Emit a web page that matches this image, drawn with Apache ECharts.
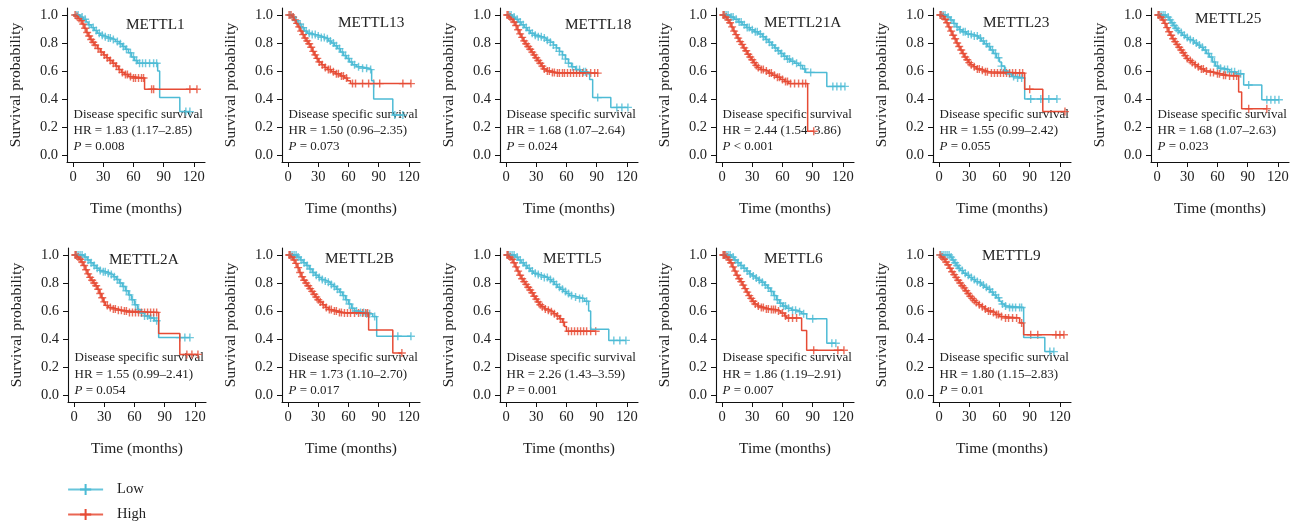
<!DOCTYPE html>
<html>
<head>
<meta charset="utf-8">
<script src="https://cdn.jsdelivr.net/npm/echarts@6/dist/echarts.min.js"></script>
<style>
  html, body { margin: 0; padding: 0; background: #fff; }
  #chart { width: 1298px; height: 522px; }
</style>
</head>
<body>
<div id="chart"></div>
<script>
// Kaplan–Meier disease specific survival, low vs high expression of METTL family genes.
// Each curve: [time (months), survival] at every drop; censor times listed separately.

const timeTicks = [0, 30, 60, 90, 120];
const survTicks = [0, 0.2, 0.4, 0.6, 0.8, 1.0];
const groups = ['Low', 'High'];

const panelNames = ['METTL1', 'METTL13', 'METTL18', 'METTL21A', 'METTL23', 'METTL25',
                    'METTL2A', 'METTL2B', 'METTL5', 'METTL6', 'METTL9'];
const hrTexts = ['1.83 (1.17–2.85)', '1.50 (0.96–2.35)', '1.68 (1.07–2.64)', '2.44 (1.54–3.86)',
                 '1.55 (0.99–2.42)', '1.68 (1.07–2.63)', '1.55 (0.99–2.41)', '1.73 (1.10–2.70)',
                 '2.26 (1.43–3.59)', '1.86 (1.19–2.91)', '1.80 (1.15–2.83)'];
const pTexts = ['= 0.008', '= 0.073', '= 0.024', '< 0.001', '= 0.055', '= 0.023',
                '= 0.054', '= 0.017', '= 0.001', '= 0.007', '= 0.01'];

// METTL1
const mettl1Low = [[0,1],[7,0.985],[10,0.97],[13,0.95],[15,0.93],[18,0.91],[21,0.89],[24,0.87],[27,0.855],[30,0.845],[34,0.835],[38,0.825],[42,0.81],[46,0.795],[49,0.775],[52,0.755],[55,0.73],[58,0.7],[61,0.675],[64,0.655],[84,0.6],[86,0.41],[106,0.31]];
const mettl1LowCens = [3,5,9,12,16,20,23,26,29,32,35,37,40,44,47,50,53,57,60,63,66,69,72,76,80,83,112,116];
const mettl1High = [[0,1],[3,0.99],[5,0.975],[7,0.96],[9,0.935],[11,0.905],[13,0.875],[15,0.85],[17,0.825],[19,0.805],[21,0.785],[24,0.76],[27,0.735],[30,0.715],[33,0.695],[36,0.675],[39,0.655],[42,0.635],[45,0.61],[48,0.59],[51,0.575],[55,0.56],[59,0.55],[71,0.47]];
const mettl1HighCens = [2,4,6,8,10,12,14,16,18,20,22,25,28,31,34,37,40,43,46,49,52,54,57,60,62,65,68,70,78,80,116,123];

// METTL13
const mettl13Low = [[0,1],[4,0.985],[7,0.96],[10,0.935],[13,0.91],[16,0.885],[19,0.87],[23,0.86],[28,0.85],[33,0.84],[37,0.83],[40,0.815],[43,0.8],[46,0.78],[49,0.76],[52,0.735],[55,0.71],[58,0.69],[61,0.665],[64,0.645],[68,0.63],[73,0.62],[80,0.61],[83,0.53],[85,0.4],[104,0.285]];
const mettl13LowCens = [2,5,8,12,15,18,21,24,27,30,33,36,39,42,45,48,51,54,57,60,63,66,70,74,78,82,106,114];
const mettl13High = [[0,1],[4,0.985],[6,0.965],[8,0.94],[10,0.915],[12,0.885],[14,0.86],[16,0.835],[18,0.815],[20,0.795],[22,0.77],[24,0.74],[26,0.715],[28,0.69],[30,0.665],[33,0.645],[36,0.625],[39,0.61],[43,0.595],[47,0.58],[52,0.565],[56,0.55],[59,0.53],[62,0.51]];
const mettl13HighCens = [1,3,5,7,9,11,13,15,17,19,21,23,25,27,29,31,34,37,40,42,45,48,50,53,55,58,64,67,74,80,85,91,114,122];

// METTL18
const mettl18Low = [[0,1],[6,0.985],[9,0.97],[12,0.95],[15,0.93],[18,0.91],[21,0.89],[24,0.87],[28,0.855],[32,0.845],[36,0.835],[40,0.82],[44,0.805],[47,0.785],[50,0.765],[53,0.74],[56,0.715],[59,0.685],[62,0.655],[65,0.63],[69,0.61],[74,0.595],[80,0.58],[83,0.54],[86,0.41],[104,0.34]];
const mettl18LowCens = [3,5,8,11,14,17,20,23,26,29,32,35,38,41,44,47,50,53,56,59,62,66,70,73,77,79,91,110,115,121];
const mettl18High = [[0,1],[3,0.985],[5,0.97],[7,0.95],[9,0.925],[11,0.895],[13,0.865],[15,0.84],[17,0.815],[19,0.795],[21,0.775],[23,0.755],[25,0.735],[27,0.715],[29,0.695],[31,0.675],[33,0.655],[35,0.635],[37,0.615],[40,0.6],[44,0.59],[50,0.585]];
const mettl18HighCens = [1,2,4,6,8,10,12,14,16,18,20,22,24,26,28,30,32,34,36,38,41,43,46,48,51,53,56,58,61,64,67,70,73,76,80,84,88,91];

// METTL21A
const mettl21aLow = [[0,1],[8,0.985],[12,0.97],[16,0.95],[20,0.93],[24,0.91],[28,0.895],[32,0.88],[36,0.865],[40,0.845],[43,0.825],[46,0.805],[49,0.785],[52,0.765],[55,0.745],[58,0.725],[61,0.705],[64,0.685],[68,0.67],[72,0.655],[76,0.64],[80,0.615],[83,0.59],[104,0.49]];
const mettl21aLowCens = [2,4,6,9,11,14,17,19,22,25,27,30,33,35,38,41,44,47,50,53,56,59,62,65,67,70,74,78,82,88,110,114,118,122];
const mettl21aHigh = [[0,1],[3,0.985],[5,0.965],[7,0.945],[9,0.915],[11,0.885],[13,0.86],[15,0.835],[17,0.81],[19,0.79],[21,0.765],[23,0.745],[25,0.72],[27,0.7],[29,0.68],[31,0.66],[33,0.64],[35,0.625],[38,0.61],[42,0.6],[46,0.585],[50,0.57],[54,0.555],[58,0.54],[62,0.525],[66,0.51],[85,0.17]];
const mettl21aHighCens = [1,2,4,6,8,10,12,14,16,18,20,22,24,26,28,30,32,34,36,39,41,44,47,49,52,55,57,60,63,65,68,72,76,80,83,91];

// METTL23
const mettl23Low = [[0,1],[8,0.985],[11,0.965],[14,0.94],[17,0.915],[20,0.895],[23,0.88],[27,0.865],[31,0.86],[35,0.85],[39,0.835],[42,0.815],[45,0.795],[48,0.775],[51,0.75],[54,0.725],[57,0.695],[60,0.665],[62,0.635],[65,0.6],[68,0.58],[72,0.56],[76,0.55],[85,0.4]];
const mettl23LowCens = [2,4,6,9,12,15,18,21,24,26,29,32,35,38,41,44,47,50,53,56,59,62,66,70,74,78,82,91,101,109,117];
const mettl23High = [[0,1],[3,0.99],[5,0.97],[7,0.945],[9,0.915],[11,0.885],[13,0.855],[15,0.83],[17,0.8],[19,0.775],[21,0.75],[23,0.725],[25,0.7],[27,0.68],[29,0.66],[31,0.645],[34,0.63],[37,0.615],[41,0.605],[45,0.595],[50,0.585],[85,0.47],[103,0.31]];
const mettl23HighCens = [1,2,4,6,8,10,12,14,16,18,20,22,24,26,28,30,32,35,38,40,43,46,48,52,55,58,61,64,67,70,73,76,80,83,90,125];

// METTL25
const mettl25Low = [[0,1],[9,0.985],[12,0.965],[14,0.945],[16,0.925],[18,0.905],[20,0.89],[22,0.875],[25,0.855],[28,0.84],[31,0.825],[34,0.815],[37,0.8],[40,0.785],[43,0.77],[46,0.75],[49,0.725],[52,0.7],[55,0.665],[58,0.635],[61,0.62],[66,0.61],[72,0.595],[78,0.58],[86,0.5],[104,0.395]];
const mettl25LowCens = [2,4,6,8,11,13,15,17,19,21,24,27,30,33,36,39,42,45,48,51,54,57,60,63,67,70,74,77,81,83,91,109,113,117,121];
const mettl25High = [[0,1],[3,0.985],[5,0.965],[7,0.94],[9,0.91],[11,0.88],[13,0.855],[15,0.83],[17,0.81],[19,0.79],[21,0.77],[23,0.75],[25,0.73],[27,0.71],[29,0.69],[31,0.675],[34,0.66],[37,0.645],[40,0.63],[43,0.615],[47,0.6],[52,0.59],[58,0.58],[64,0.57],[70,0.565],[81,0.45],[84,0.33]];
const mettl25HighCens = [1,2,4,6,8,10,12,14,16,18,20,22,24,26,28,30,33,35,38,41,44,46,49,53,56,60,62,66,68,72,76,79,91,109];

// METTL2A
const mettl2aLow = [[0,1],[10,0.985],[13,0.965],[16,0.945],[19,0.925],[22,0.905],[25,0.89],[28,0.88],[32,0.87],[36,0.86],[39,0.845],[42,0.825],[45,0.8],[48,0.775],[51,0.745],[54,0.715],[57,0.68],[60,0.645],[63,0.61],[66,0.585],[70,0.565],[75,0.55],[80,0.53],[84,0.41]];
const mettl2aLowCens = [2,4,6,8,11,14,17,20,23,26,29,31,34,37,40,43,46,49,52,55,58,61,64,67,70,73,76,79,82,105,110,115];
const mettl2aHigh = [[0,1],[3,0.985],[5,0.97],[7,0.95],[9,0.925],[11,0.895],[13,0.865],[15,0.84],[17,0.82],[19,0.8],[21,0.78],[23,0.755],[25,0.725],[27,0.695],[29,0.665],[31,0.64],[34,0.625],[38,0.615],[43,0.605],[48,0.6],[53,0.59],[84,0.44],[105,0.29]];
const mettl2aHighCens = [1,2,4,6,8,10,12,14,16,18,20,22,24,26,28,30,33,36,39,41,44,47,50,52,55,58,61,64,67,70,73,76,79,82,112,117,123];

// METTL2B
const mettl2bLow = [[0,1],[9,0.985],[12,0.965],[15,0.945],[18,0.925],[21,0.9],[24,0.875],[27,0.855],[30,0.84],[33,0.825],[36,0.815],[39,0.805],[42,0.79],[45,0.775],[48,0.755],[51,0.735],[54,0.71],[57,0.68],[60,0.65],[63,0.62],[66,0.6],[70,0.59],[76,0.58],[84,0.56],[88,0.42]];
const mettl2bLowCens = [2,4,6,8,10,13,16,19,22,25,28,31,34,37,40,43,46,49,52,55,58,61,64,68,72,75,78,81,86,109,122];
const mettl2bHigh = [[0,1],[3,0.985],[5,0.965],[7,0.94],[9,0.91],[11,0.875],[13,0.845],[15,0.82],[17,0.8],[19,0.78],[21,0.76],[23,0.74],[25,0.72],[27,0.7],[29,0.68],[31,0.665],[34,0.645],[37,0.625],[40,0.61],[44,0.6],[49,0.59],[55,0.585],[80,0.465],[104,0.3]];
const mettl2bHighCens = [1,2,4,6,8,10,12,14,16,18,20,22,24,26,28,30,32,35,38,41,43,46,48,51,53,56,59,62,66,70,74,77,79,113];

// METTL5
const mettl5Low = [[0,1],[9,0.985],[12,0.965],[15,0.945],[18,0.925],[21,0.905],[24,0.885],[27,0.87],[30,0.86],[34,0.85],[38,0.84],[42,0.825],[45,0.81],[48,0.79],[51,0.77],[54,0.755],[57,0.74],[60,0.725],[63,0.71],[67,0.7],[72,0.69],[78,0.67],[82,0.6],[84,0.47],[102,0.39]];
const mettl5LowCens = [2,4,6,8,11,14,17,20,23,26,29,32,35,38,41,44,47,50,53,56,59,62,65,69,73,76,80,107,113,119];
const mettl5High = [[0,1],[3,0.985],[5,0.97],[7,0.945],[9,0.915],[11,0.885],[13,0.855],[15,0.83],[17,0.81],[19,0.79],[21,0.77],[23,0.75],[25,0.73],[27,0.705],[29,0.685],[31,0.665],[33,0.645],[35,0.63],[38,0.615],[41,0.605],[44,0.595],[47,0.58],[50,0.565],[53,0.545],[56,0.52],[58,0.49],[60,0.455]];
const mettl5HighCens = [1,2,4,6,8,10,12,14,16,18,20,22,24,26,28,30,32,34,36,39,42,45,48,51,54,57,62,65,68,71,74,77,80,84,89];

// METTL6
const mettl6Low = [[0,1],[9,0.985],[12,0.965],[15,0.945],[18,0.925],[21,0.905],[24,0.885],[27,0.865],[30,0.85],[33,0.835],[36,0.82],[39,0.805],[42,0.785],[45,0.765],[48,0.74],[51,0.71],[54,0.68],[57,0.655],[60,0.635],[64,0.62],[69,0.605],[74,0.595],[79,0.58],[84,0.545],[104,0.37]];
const mettl6LowCens = [2,4,6,8,11,13,16,19,22,25,28,31,34,37,40,43,46,49,52,55,58,61,63,66,70,73,77,81,90,109,113];
const mettl6High = [[0,1],[4,0.985],[6,0.965],[8,0.945],[10,0.915],[12,0.885],[14,0.855],[16,0.83],[18,0.81],[20,0.785],[22,0.76],[24,0.735],[26,0.71],[28,0.69],[30,0.67],[32,0.65],[35,0.635],[38,0.625],[42,0.615],[48,0.61],[54,0.6],[58,0.585],[62,0.565],[64,0.55],[79,0.46],[84,0.32]];
const mettl6HighCens = [1,2,3,5,7,9,11,13,15,17,19,21,23,25,27,29,31,33,36,39,41,44,46,49,51,53,56,60,63,66,70,74,91,115,121];

// METTL9
const mettl9Low = [[0,1],[11,0.985],[13,0.965],[15,0.945],[17,0.925],[19,0.905],[21,0.89],[24,0.87],[27,0.855],[30,0.84],[33,0.825],[36,0.81],[39,0.8],[42,0.785],[45,0.77],[48,0.755],[51,0.735],[54,0.715],[57,0.695],[60,0.67],[62,0.65],[65,0.635],[68,0.625],[84,0.41],[105,0.31]];
const mettl9LowCens = [2,4,6,8,10,12,14,16,18,20,23,26,29,32,35,38,41,44,47,50,53,56,59,63,66,70,73,76,80,82,110,114];
const mettl9High = [[0,1],[2,0.985],[4,0.97],[6,0.95],[8,0.93],[10,0.905],[12,0.88],[14,0.86],[16,0.84],[18,0.82],[20,0.8],[22,0.78],[24,0.765],[26,0.745],[28,0.725],[30,0.705],[32,0.69],[34,0.675],[36,0.66],[39,0.645],[42,0.63],[45,0.615],[48,0.6],[52,0.59],[56,0.575],[60,0.56],[64,0.55],[80,0.515],[84,0.43]];
const mettl9HighCens = [1,3,5,7,9,11,13,15,17,19,21,23,25,27,29,31,33,35,37,40,43,46,49,51,54,57,59,62,66,69,73,77,82,91,98,116,120,124];

const curveSets = [
  [mettl1Low, mettl1LowCens, mettl1High, mettl1HighCens],
  [mettl13Low, mettl13LowCens, mettl13High, mettl13HighCens],
  [mettl18Low, mettl18LowCens, mettl18High, mettl18HighCens],
  [mettl21aLow, mettl21aLowCens, mettl21aHigh, mettl21aHighCens],
  [mettl23Low, mettl23LowCens, mettl23High, mettl23HighCens],
  [mettl25Low, mettl25LowCens, mettl25High, mettl25HighCens],
  [mettl2aLow, mettl2aLowCens, mettl2aHigh, mettl2aHighCens],
  [mettl2bLow, mettl2bLowCens, mettl2bHigh, mettl2bHighCens],
  [mettl5Low, mettl5LowCens, mettl5High, mettl5HighCens],
  [mettl6Low, mettl6LowCens, mettl6High, mettl6HighCens],
  [mettl9Low, mettl9LowCens, mettl9High, mettl9HighCens]
];

// ---- layout ----
const gridLefts = [67, 282, 500, 716, 933, 1151, 68, 282, 500, 716, 933];
const gridTops  = [8, 8, 8, 8, 8, 8, 248, 248, 248, 248, 248];
const GRID_W = 138, GRID_H = 154;
// panel name: left edge and vertical centre, in pixels
const nameAnchors = [[126, 25], [338, 23], [565, 25], [764, 23], [983, 23], [1195, 19],
                     [109, 260], [325, 259], [543, 259], [764, 259], [982, 256]];
// survival value at the centre of each annotation line (row 1, row 2)
const noteLevels = [[0.286, 0.171, 0.057], [0.27, 0.147, 0.033]];

const COLORS = { Low: '#4DBBD5', High: '#E64B35' };
const FONT = "'Liberation Serif', 'DejaVu Serif', serif";
const INK = '#222';
const PLUS = 'path://M4.1,0H5.9V4.1H10V5.9H5.9V10H4.1V5.9H0V4.1H4.1Z';

function survAt(steps, t) {
  let s = 1;
  for (const [ti, si] of steps) {
    if (ti <= t) s = si; else break;
  }
  return s;
}

function lineData(steps, cens) {
  const last = steps[steps.length - 1];
  const tEnd = Math.max(...cens);
  const pts = steps.slice();
  if (tEnd > last[0]) pts.push([tEnd, last[1]]);
  return pts;
}

const grids = [], xAxes = [], yAxes = [], series = [];

panelNames.forEach((name, i) => {
  grids.push({ left: gridLefts[i], top: gridTops[i], width: GRID_W, height: GRID_H });
  const axisLine = { show: true, onZero: false, lineStyle: { color: '#111', width: 1.1 } };
  xAxes.push({
    type: 'value', gridIndex: i, min: -6, max: 131,
    axisLine,
    axisTick: { show: true, length: 5, customValues: timeTicks, lineStyle: { color: '#111', width: 1 } },
    axisLabel: { customValues: timeTicks, margin: 8, fontFamily: FONT, fontSize: 14.5, color: INK },
    splitLine: { show: false },
    name: 'Time (months)', nameLocation: 'middle', nameGap: 39,
    nameTextStyle: { fontFamily: FONT, fontSize: 15.5, color: INK }
  });
  yAxes.push({
    type: 'value', gridIndex: i, min: -0.05, max: 1.05,
    axisLine,
    axisTick: { show: true, length: 5, customValues: survTicks, lineStyle: { color: '#111', width: 1 } },
    axisLabel: { customValues: survTicks, margin: 9, fontFamily: FONT, fontSize: 14.5, color: INK,
                 formatter: v => v.toFixed(1) },
    splitLine: { show: false },
    name: 'Survival probability', nameLocation: 'middle', nameGap: 43,
    nameTextStyle: { fontFamily: FONT, fontSize: 15.5, color: INK }
  });

  const [lowSteps, lowCens, highSteps, highCens] = curveSets[i];
  [[lowSteps, lowCens, 'Low'], [highSteps, highCens, 'High']].forEach(([steps, cens, g]) => {
    series.push({
      type: 'line', name: g, xAxisIndex: i, yAxisIndex: i,
      step: 'end', data: lineData(steps, cens),
      showSymbol: false, symbol: PLUS, symbolSize: 8,
      lineStyle: { color: COLORS[g], width: 1.5 },
      itemStyle: { color: COLORS[g] },
      emphasis: { disabled: true }, silent: true, animation: false
    });
    series.push({
      type: 'scatter', name: g, xAxisIndex: i, yAxisIndex: i,
      data: cens.map(t => [t, survAt(steps, t)]),
      symbol: PLUS, symbolSize: 8,
      itemStyle: { color: COLORS[g] },
      emphasis: { disabled: true }, silent: true, animation: false
    });
  });
});

const chart = echarts.init(document.getElementById('chart'), null, { renderer: 'canvas' });
chart.setOption({
  backgroundColor: '#fff',
  animation: false,
  grid: grids, xAxis: xAxes, yAxis: yAxes, series,
  legend: {
    data: groups, orient: 'vertical', left: 67, top: 482, height: 40, padding: 0,
    itemWidth: 35, itemHeight: 14, itemGap: 10,
    lineStyle: { width: 2.2, opacity: 0.85 },
    textStyle: { fontFamily: FONT, fontSize: 14.5, color: INK, padding: [0, 0, 0, 9] },
    selectedMode: false
  }
});

// panel names and survival statistics
const texts = [];
panelNames.forEach((name, i) => {
  texts.push({
    type: 'text', x: nameAnchors[i][0], y: nameAnchors[i][1], z: 1, silent: true,
    style: { text: name, fontFamily: FONT, fontSize: 15.3, fill: INK, align: 'left', verticalAlign: 'middle' }
  });
  const lv = noteLevels[i < 6 ? 0 : 1];
  const lines = ['Disease specific survival', 'HR = ' + hrTexts[i], '{i|P} ' + pTexts[i]];
  lines.forEach((txt, k) => {
    const [px, py] = chart.convertToPixel({ gridIndex: i }, [0.5, lv[k]]);
    texts.push({
      type: 'text', x: px, y: py, z: 0, silent: true,
      style: {
        text: txt, fontFamily: FONT, fontSize: 13, fill: INK, align: 'left', verticalAlign: 'middle',
        rich: { i: { fontFamily: FONT, fontSize: 13, fill: INK, fontStyle: 'italic' } }
      }
    });
  });
});
chart.setOption({ graphic: texts });
</script>
</body>
</html>
